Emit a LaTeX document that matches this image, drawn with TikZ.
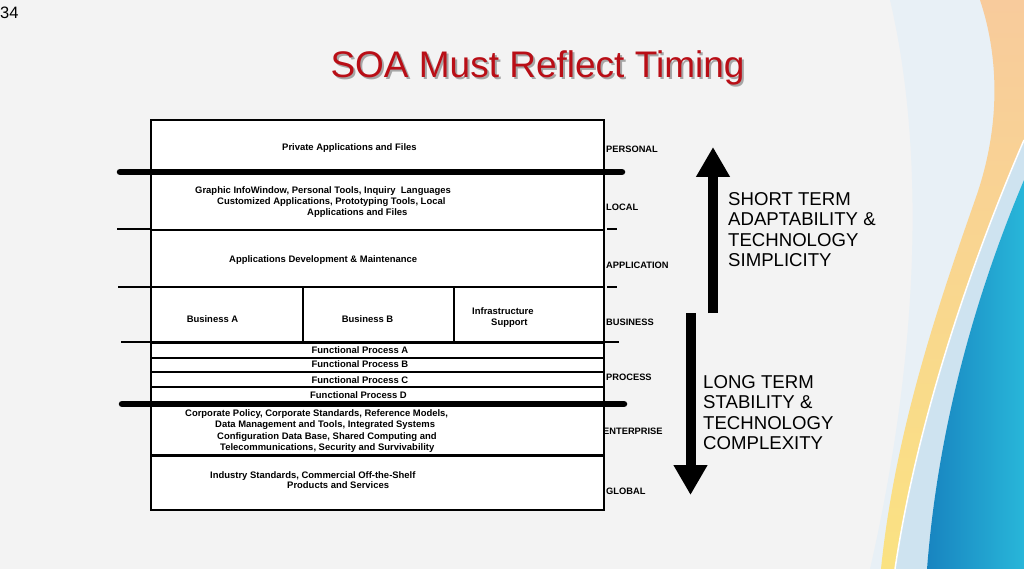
\documentclass[tikz,border=0pt]{standalone}
\usepackage{fontspec}
\setmainfont{Liberation Sans}
\usetikzlibrary{arrows.meta}
\definecolor{bg}{RGB}{243,243,243}
\definecolor{palebg}{RGB}{232,240,246}
\definecolor{peach}{RGB}{248,203,156}
\definecolor{yell}{RGB}{250,226,130}
\definecolor{paleblue}{RGB}{206,227,240}
\definecolor{blueL}{RGB}{24,132,192}
\definecolor{blueR}{RGB}{40,182,217}
\definecolor{titlered}{RGB}{185,14,22}
\begin{document}
\begin{tikzpicture}[x=1pt,y=-1pt,
  box/.style={draw=black, line width=2pt, fill=white, inner sep=0pt, anchor=north west},
  lbl/.style={font=\bfseries\fontsize{9.45}{11.3}\selectfont, inner sep=0pt},
  sidelbl/.style={lbl, font=\bfseries\fontsize{9.3}{11.3}\selectfont, anchor=west},
  bigtxt/.style={font=\fontsize{18.6}{20.5}\selectfont, align=left, anchor=west, inner sep=0pt},
  heavysep/.style={line width=6.5pt, line cap=round},
  thinsep/.style={line width=1.8pt},
  bigarrow/.style={line width=10pt, -{Triangle[width=32pt,length=30pt]}},
]
\useasboundingbox (0,0) rectangle (1024,569);
\clip (0,0) rectangle (1024,569);
% background
\fill[bg] (0,0) rectangle (1024,569);
\fill[palebg] (890,0) .. controls (925,150) and (920,350) .. (870,569) -- (1024,569) -- (1024,0) -- cycle;
\shade[top color=peach, bottom color=yell]
  (980,0) .. controls (1000,60) and (1000,130) .. (975,200) .. controls (940,300) and (895,430) .. (881,569)
  -- (895,569) .. controls (920,400) and (985,230) .. (1024,140) -- (1024,0) -- cycle;
\fill[paleblue] (895,569) .. controls (920,400) and (985,230) .. (1024,140)
  -- (1024,180) .. controls (990,260) and (940,400) .. (927,569) -- cycle;
\draw[white, line width=1.5pt] (895,569) .. controls (920,400) and (985,230) .. (1024,140);
\shade[left color=blueL, right color=blueR]
  (1024,180) .. controls (990,260) and (940,400) .. (927,569) -- (1024,569) -- cycle;

% page number and title
\node[anchor=base west, inner sep=0pt, font=\fontsize{16.5}{18}\selectfont] (pnum) at (0,19) {34};
\node[anchor=base, inner sep=0pt, font=\fontsize{37}{40}\selectfont, text=black!35] (titleshadow) at (539.5,80) {SOA Must Reflect Timing};
\node[anchor=base, inner sep=0pt, font=\fontsize{37}{40}\selectfont, text=titlered] (title) at (537.5,78) {SOA Must Reflect Timing};

% layer boxes
\node[box, minimum width=453pt, minimum height=53pt] (personal) at (150,119) {};
\node[box, minimum width=453pt, minimum height=57pt] (local) at (150,172) {};
\node[box, minimum width=453pt, minimum height=57pt] (application) at (150,229) {};
\node[box, minimum width=152pt, minimum height=56pt] (busA) at (150,286) {};
\node[box, minimum width=151pt, minimum height=56pt] (busB) at (302,286) {};
\node[box, minimum width=150pt, minimum height=56pt] (infra) at (453,286) {};
\node[box, minimum width=453pt, minimum height=15pt] (fpA) at (150,342) {};
\node[box, minimum width=453pt, minimum height=14pt] (fpB) at (150,357) {};
\node[box, minimum width=453pt, minimum height=15pt] (fpC) at (150,371) {};
\node[box, minimum width=453pt, minimum height=18pt] (fpD) at (150,386) {};
\node[box, minimum width=453pt, minimum height=51pt] (enterprise) at (150,404) {};
\node[box, minimum width=453pt, minimum height=54pt] (global) at (150,455) {};

% separators
\coordinate (s1a) at (120,172); \coordinate (s1b) at (622,172);
\coordinate (s2a) at (117,229); \coordinate (s2b) at (150,229);
\coordinate (s2c) at (607,229); \coordinate (s2d) at (617,229);
\coordinate (s3a) at (118,287); \coordinate (s3b) at (150,287);
\coordinate (s3c) at (607,287); \coordinate (s3d) at (617,287);
\coordinate (s4a) at (121,342); \coordinate (s4b) at (619,342);
\coordinate (s5a) at (122,404); \coordinate (s5b) at (624,404);
\coordinate (s6a) at (150,455.5); \coordinate (s6b) at (605,455.5);
\draw[heavysep] (s1a) -- (s1b);
\draw[thinsep] (s2a) -- (s2b);
\draw[thinsep] (s2c) -- (s2d);
\draw[thinsep] (s3a) -- (s3b);
\draw[thinsep] (s3c) -- (s3d);
\draw[thinsep] (s4a) -- (s4b);
\draw[heavysep] (s5a) -- (s5b);
\draw[line width=3.5pt] (s6a) -- (s6b);

% texts in boxes
\node[lbl, anchor=west] (tPersonal) at (282,148) {Private Applications and Files};
\node[lbl, anchor=west, align=left] (tLocal) at (195,202)
  {Graphic InfoWindow, Personal Tools, Inquiry\ \ Languages\\
   \hspace*{22pt}Customized Applications, Prototyping Tools, Local\\
   \hspace*{112pt}Applications and Files};
\node[lbl, anchor=west] (tApp) at (229,260) {Applications Development \& Maintenance};
\node[lbl] (tBusA) at (212.5,319) {Business A};
\node[lbl] (tBusB) at (367.5,319) {Business B};
\node[lbl, anchor=west, align=left] (tInfra) at (472,317.5) {Infrastructure\\\hspace*{19pt}Support};
\node[lbl] (tfpA) at (360,350.3) {Functional Process A};
\node[lbl] (tfpB) at (360,364.3) {Functional Process B};
\node[lbl] (tfpC) at (360,380) {Functional Process C};
\node[lbl] (tfpD) at (358.5,394.7) {Functional Process D};
\node[lbl, anchor=west, align=left] (tEnt) at (185,431)
  {Corporate Policy, Corporate Standards, Reference Models,\\
   \hspace*{30pt}Data Management and Tools, Integrated Systems\\
   \hspace*{32pt}Configuration Data Base, Shared Computing and\\
   \hspace*{35pt}Telecommunications, Security and Survivability};
\node[lbl, anchor=west, align=left, font=\bfseries\fontsize{9.45}{10.2}\selectfont] (tGlob) at (210,480)
  {Industry Standards, Commercial Off-the-Shelf\\
   \hspace*{77pt}Products and Services};

% side labels
\node[sidelbl] (lPersonal) at (606,149) {PERSONAL};
\node[sidelbl] (lLocal) at (606,207) {LOCAL};
\node[sidelbl] (lApp) at (606,265) {APPLICATION};
\node[sidelbl] (lBus) at (606,322) {BUSINESS};
\node[sidelbl] (lProc) at (606,377) {PROCESS};
\node[sidelbl] (lEnt) at (603,431) {ENTERPRISE};
\node[sidelbl] (lGlob) at (606,491) {GLOBAL};

% arrows
\coordinate (upStart) at (713,313); \coordinate (upEnd) at (713,147);
\coordinate (dnStart) at (690.5,313); \coordinate (dnEnd) at (690.5,495);
\draw[bigarrow] (upStart) -- (upEnd);
\draw[bigarrow] (dnStart) -- (dnEnd);

\node[bigtxt] (shortterm) at (728,229.5) {SHORT TERM\\ADAPTABILITY \&\\TECHNOLOGY\\SIMPLICITY};
\node[bigtxt] (longterm) at (703,412.5) {LONG TERM\\STABILITY \&\\TECHNOLOGY\\COMPLEXITY};
\end{tikzpicture}
\end{document}
